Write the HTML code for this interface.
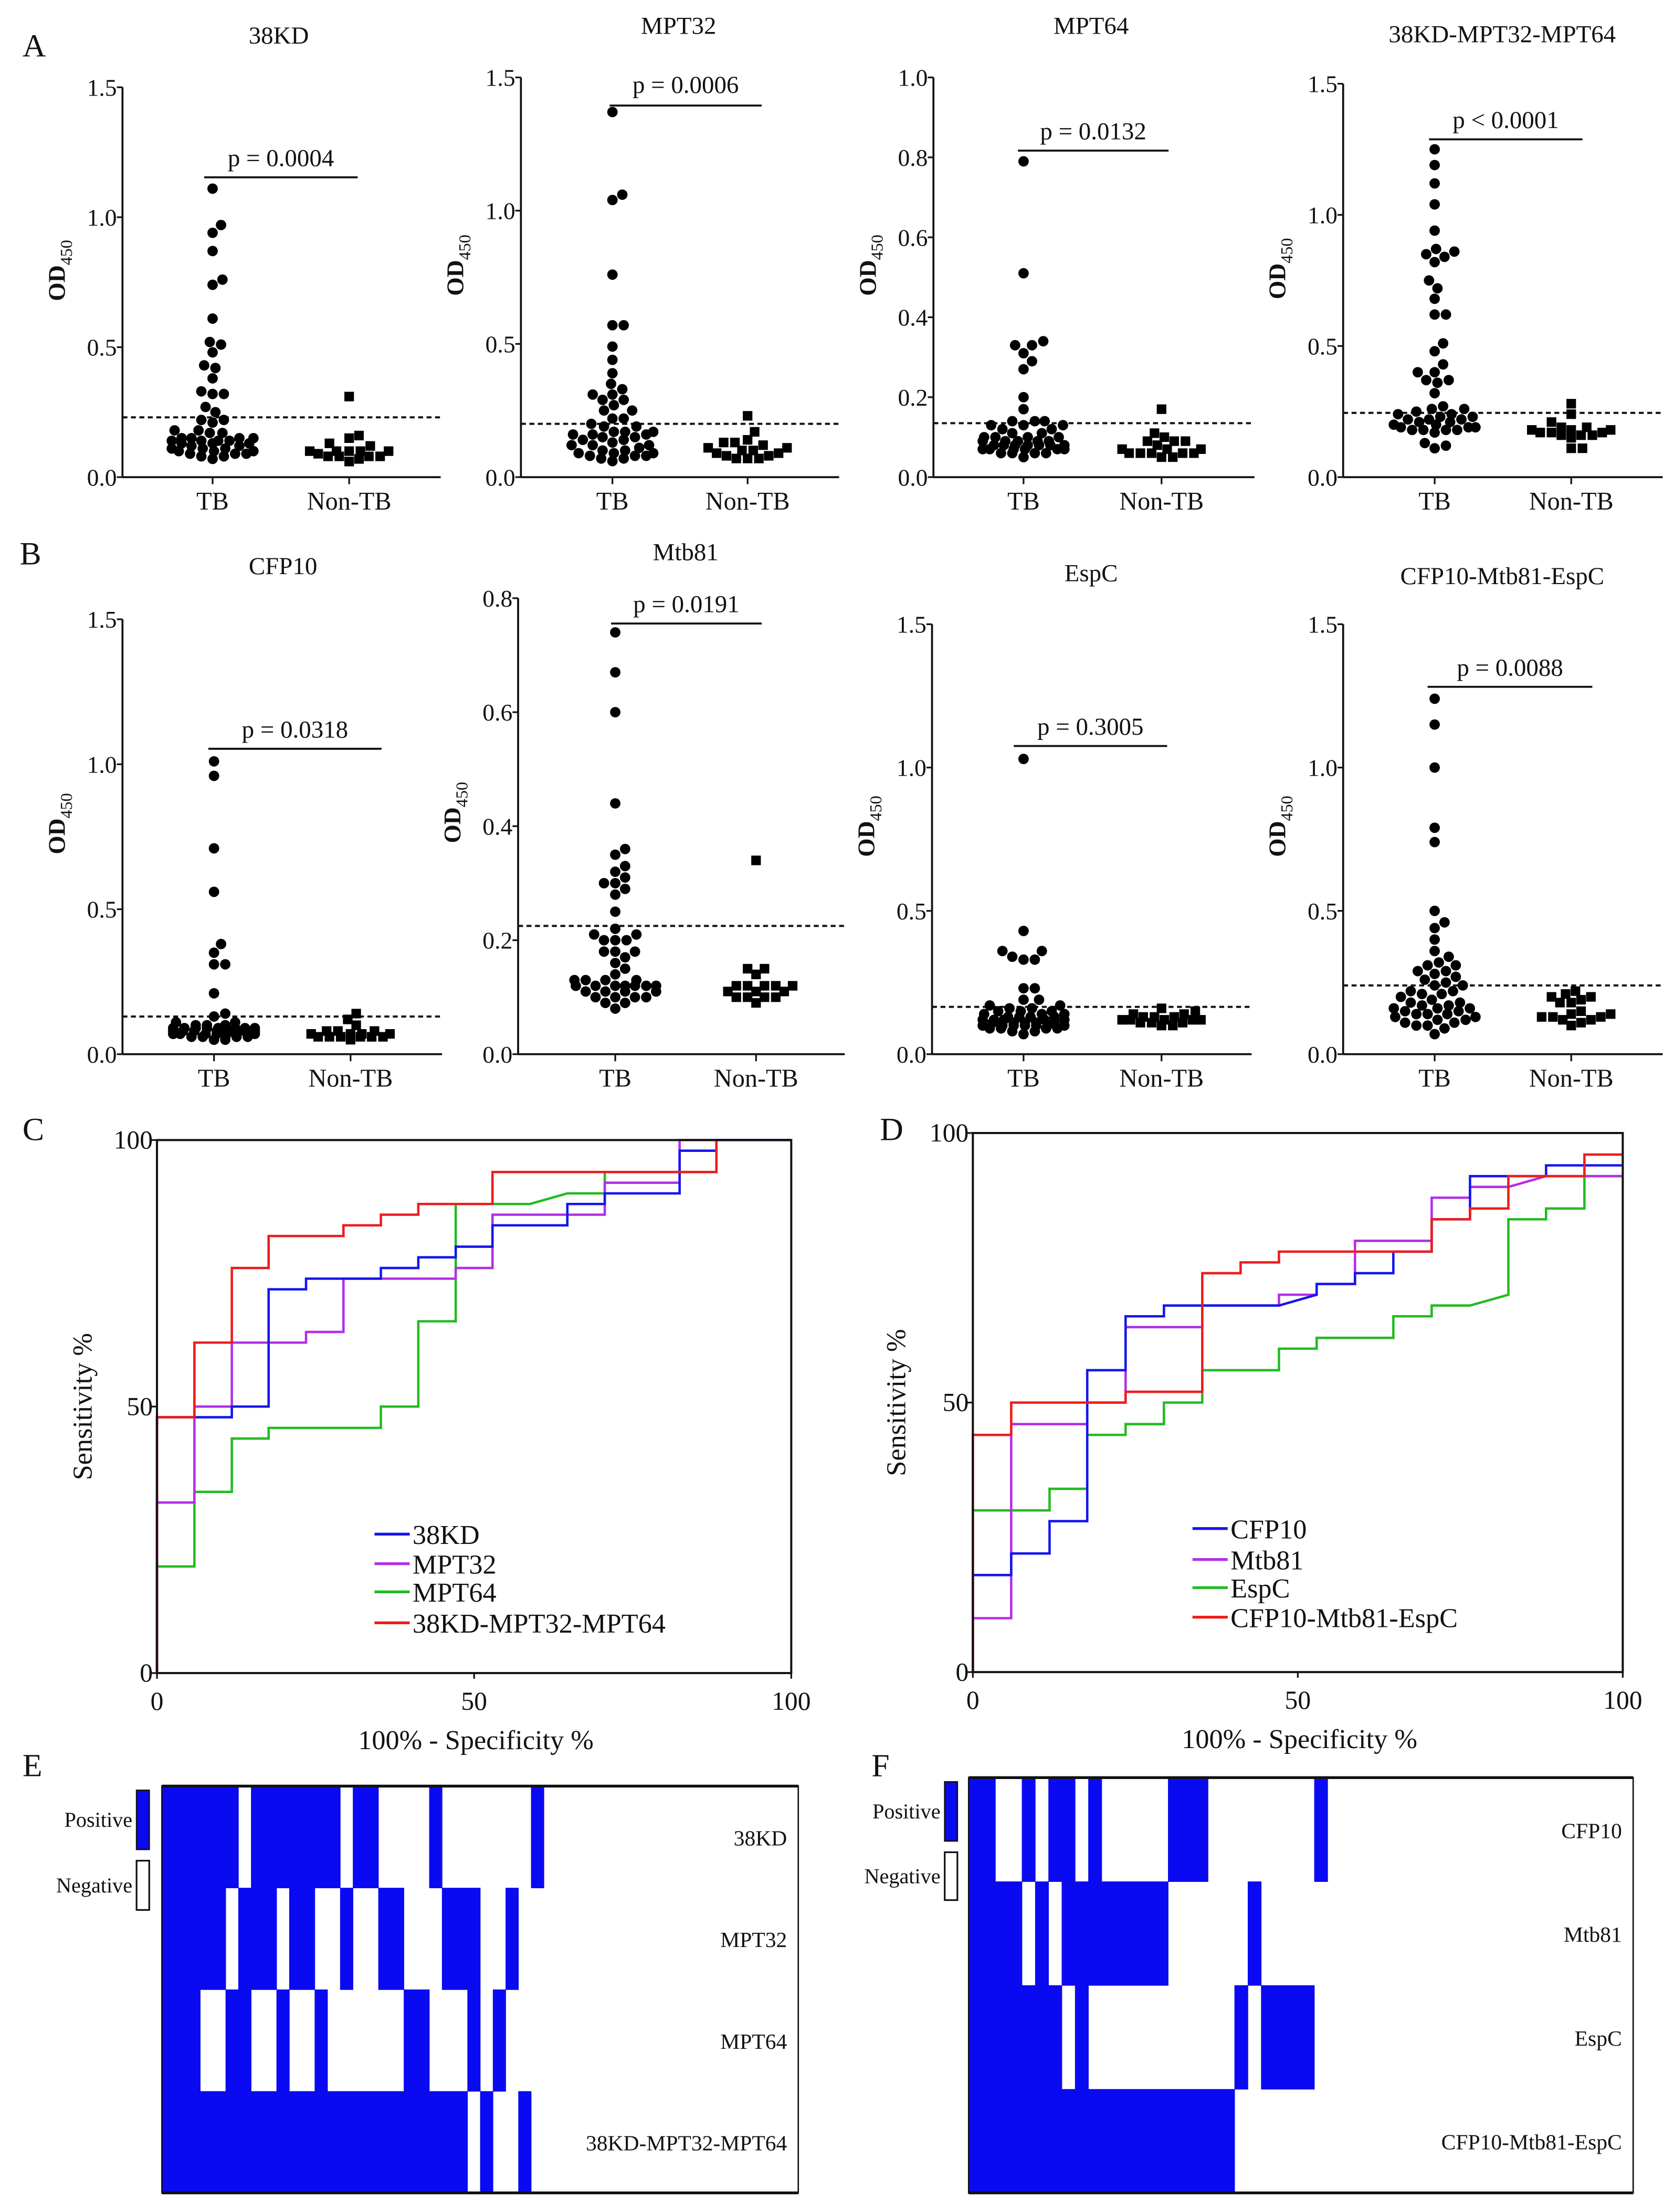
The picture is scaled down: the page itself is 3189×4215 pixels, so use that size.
<!DOCTYPE html>
<html><head><meta charset="utf-8">
<style>
html,body{margin:0;padding:0;background:#fff;}
svg{display:block;}
text{font-family:"Liberation Serif",serif;fill:#111;}
</style></head>
<body>
<svg id="fig" width="3189" height="4215" viewBox="0 0 1189 1571.6" preserveAspectRatio="none" xmlns="http://www.w3.org/2000/svg">
<rect x="0" y="0" width="1189" height="1571.6" fill="#fff"/>
</svg>
<script>
// ---------- scatter data (OD450) ----------
const tb38kd=[1.11,0.97,0.94,0.87,0.76,0.74,0.61,0.52,0.51,0.48,0.43,0.42,0.38,0.33,0.32,0.32,0.27,0.25,0.22,0.22,0.21,0.18,0.17,0.17,0.18,0.15,0.15,0.15,0.15,0.14,0.14,0.14,0.14,0.13,0.13,0.13,0.12,0.12,0.11,0.11,0.11,0.10,0.10,0.10,0.09,0.09,0.09,0.08,0.08,0.07];
const nt38kd=[0.31,0.16,0.15,0.13,0.12,0.10,0.10,0.10,0.10,0.10,0.09,0.08,0.08,0.08,0.08,0.07,0.06];
const tbMpt32=[1.37,1.06,1.04,0.76,0.57,0.57,0.49,0.44,0.39,0.35,0.33,0.31,0.31,0.29,0.29,0.27,0.25,0.25,0.22,0.22,0.20,0.19,0.19,0.17,0.17,0.17,0.16,0.16,0.16,0.15,0.15,0.14,0.14,0.13,0.12,0.12,0.12,0.11,0.10,0.10,0.09,0.09,0.09,0.08,0.08,0.08,0.07,0.07,0.06];
const ntMpt32=[0.23,0.17,0.14,0.13,0.13,0.12,0.11,0.11,0.10,0.10,0.09,0.09,0.08,0.08,0.07,0.07,0.07];
const tbMpt64=[0.79,0.51,0.34,0.33,0.33,0.31,0.29,0.27,0.20,0.17,0.14,0.14,0.13,0.13,0.13,0.14,0.12,0.12,0.11,0.11,0.10,0.10,0.10,0.10,0.09,0.09,0.09,0.09,0.09,0.08,0.08,0.08,0.08,0.08,0.08,0.08,0.07,0.07,0.07,0.07,0.07,0.07,0.06,0.06,0.06,0.06,0.05];
const ntMpt64=[0.17,0.11,0.10,0.09,0.09,0.09,0.08,0.07,0.07,0.07,0.06,0.06,0.06,0.06,0.06,0.05,0.05];
const tbComboA=[1.25,1.19,1.12,1.04,0.94,0.87,0.86,0.85,0.84,0.82,0.75,0.72,0.68,0.62,0.62,0.51,0.48,0.43,0.40,0.40,0.37,0.37,0.36,0.32,0.27,0.26,0.26,0.25,0.24,0.24,0.23,0.23,0.22,0.22,0.22,0.21,0.21,0.20,0.20,0.19,0.19,0.19,0.18,0.18,0.18,0.18,0.17,0.13,0.12,0.11];
const ntComboA=[0.28,0.24,0.21,0.19,0.19,0.18,0.18,0.18,0.17,0.17,0.17,0.16,0.16,0.16,0.15,0.11,0.11];
const tbCfp10=[1.01,0.96,0.71,0.56,0.38,0.35,0.31,0.31,0.21,0.14,0.13,0.11,0.11,0.10,0.10,0.10,0.09,0.09,0.09,0.09,0.09,0.09,0.09,0.09,0.08,0.08,0.08,0.08,0.08,0.08,0.08,0.08,0.07,0.07,0.07,0.07,0.07,0.07,0.06,0.06,0.06,0.06,0.05,0.05];
const ntCfp10=[0.14,0.12,0.10,0.08,0.08,0.08,0.07,0.07,0.07,0.07,0.06,0.06,0.06,0.06,0.06,0.06,0.05];
const tbMtb81=[0.74,0.67,0.60,0.44,0.36,0.35,0.33,0.32,0.31,0.30,0.30,0.29,0.28,0.25,0.22,0.21,0.21,0.20,0.20,0.20,0.18,0.18,0.18,0.17,0.16,0.15,0.14,0.13,0.13,0.13,0.13,0.12,0.12,0.12,0.12,0.12,0.12,0.12,0.11,0.11,0.11,0.11,0.10,0.10,0.10,0.10,0.09,0.09,0.08];
const ntMtb81=[0.34,0.15,0.15,0.14,0.12,0.12,0.12,0.12,0.12,0.11,0.11,0.11,0.10,0.10,0.10,0.10,0.09];
const tbEspc=[1.03,0.43,0.36,0.36,0.34,0.33,0.33,0.23,0.23,0.19,0.19,0.17,0.17,0.16,0.16,0.15,0.15,0.15,0.14,0.14,0.14,0.13,0.13,0.13,0.13,0.12,0.12,0.12,0.12,0.12,0.11,0.11,0.11,0.11,0.11,0.10,0.10,0.10,0.10,0.10,0.10,0.10,0.09,0.09,0.09,0.09,0.08,0.08,0.07];
const ntEspc=[0.16,0.15,0.14,0.14,0.13,0.13,0.13,0.12,0.12,0.12,0.12,0.12,0.11,0.11,0.11,0.10,0.10];
const tbComboB=[1.24,1.15,1.00,0.79,0.74,0.50,0.46,0.44,0.40,0.36,0.34,0.32,0.31,0.31,0.29,0.29,0.28,0.27,0.26,0.25,0.24,0.24,0.22,0.22,0.21,0.21,0.20,0.19,0.18,0.18,0.17,0.17,0.16,0.16,0.16,0.15,0.15,0.14,0.14,0.14,0.13,0.13,0.12,0.12,0.11,0.11,0.10,0.10,0.09,0.07];
const ntComboB=[0.22,0.21,0.20,0.20,0.19,0.18,0.18,0.15,0.14,0.14,0.13,0.13,0.13,0.12,0.12,0.11,0.10];
const cutoffs=[0.23,0.20,0.135,0.245,0.13,0.225,0.165,0.24];
const pLabels=["p = 0.0004","p = 0.0006","p = 0.0132","p < 0.0001","p = 0.0318","p = 0.0191","p = 0.3005","p = 0.0088"];
const panelTitles=["38KD","MPT32","MPT64","38KD-MPT32-MPT64","CFP10","Mtb81","EspC","CFP10-Mtb81-EspC"];
const ticks15=["0.0","0.5","1.0","1.5"];
const ticks10=["0.0","0.2","0.4","0.6","0.8","1.0"];
const ticks08=["0.0","0.2","0.4","0.6","0.8"];
const groupLabels=["TB","Non-TB"];

// ---------- ROC data [100%-spec, sens] ----------
const roc38kd=[[0,0],[0,48],[11.8,48],[11.8,50],[17.6,50],[17.6,72],[23.5,72],[23.5,74],[35.3,74],[35.3,76],[41.2,76],[41.2,78],[47.1,78],[47.1,80],[52.9,80],[52.9,84],[64.7,84],[64.7,88],[70.6,88],[70.6,90],[82.4,90],[82.4,98],[88.2,98],[88.2,100],[100,100]];
const rocMpt32=[[0,0],[0,32],[5.9,32],[5.9,50],[11.8,50],[11.8,62],[23.5,62],[23.5,64],[29.4,64],[29.4,74],[47.1,74],[47.1,76],[52.9,76],[52.9,86],[70.6,86],[70.6,92],[82.4,92],[82.4,100],[100,100]];
const rocMpt64=[[0,0],[0,20],[5.9,20],[5.9,34],[11.8,34],[11.8,44],[17.6,44],[17.6,46],[35.3,46],[35.3,50],[41.2,50],[41.2,66],[47.1,66],[47.1,88],[58.8,88],[64.7,90],[70.6,90],[70.6,94],[88.2,94]];
const rocComboA=[[0,0],[0,48],[5.9,48],[5.9,62],[11.8,62],[11.8,76],[17.6,76],[17.6,82],[29.4,82],[29.4,84],[35.3,84],[35.3,86],[41.2,86],[41.2,88],[52.9,88],[52.9,94],[88.2,94],[88.2,100]];
const rocCfp10=[[0,0],[0,18],[5.9,18],[5.9,22],[11.8,22],[11.8,28],[17.6,28],[17.6,56],[23.5,56],[23.5,66],[29.4,66],[29.4,68],[47.1,68],[52.9,70],[52.9,72],[58.8,72],[58.8,74],[64.7,74],[64.7,78],[70.6,78],[70.6,84],[76.5,84],[76.5,92],[88.2,92],[88.2,94],[100,94]];
const rocMtb81=[[0,0],[0,10],[5.9,10],[5.9,46],[17.6,46],[17.6,50],[23.5,50],[23.5,64],[35.3,64],[35.3,68],[47.1,68],[47.1,70],[52.9,70],[52.9,72],[58.8,72],[58.8,80],[70.6,80],[70.6,88],[76.5,88],[76.5,90],[82.4,90],[88.2,92],[100,92]];
const rocEspc=[[0,0],[0,30],[11.8,30],[11.8,34],[17.6,34],[17.6,44],[23.5,44],[23.5,46],[29.4,46],[29.4,50],[35.3,50],[35.3,56],[47.1,56],[47.1,60],[52.9,60],[52.9,62],[64.7,62],[64.7,66],[70.6,66],[70.6,68],[76.5,68],[82.4,70],[82.4,84],[88.2,84],[88.2,86],[94.1,86],[94.1,92],[100,92]];
const rocComboB=[[0,0],[0,44],[5.9,44],[5.9,50],[23.5,50],[23.5,52],[35.3,52],[35.3,74],[41.2,74],[41.2,76],[47.1,76],[47.1,78],[70.6,78],[70.6,84],[76.5,84],[76.5,86],[82.4,86],[82.4,92],[94.1,92],[94.1,96],[100,96]];
const rocNamesC=["38KD","MPT32","MPT64","38KD-MPT32-MPT64"];
const rocNamesD=["CFP10","Mtb81","EspC","CFP10-Mtb81-EspC"];
const rocTicks=[0,50,100];

// ---------- heatmap data: runs of positive columns [start,end) out of 50 ----------
const heatCols=50;
const heatRowsE=["38KD","MPT32","MPT64","38KD-MPT32-MPT64"];
const heatE38kd=[[0,6],[7,14],[15,17],[21,22],[29,30]];
const heatEMpt32=[[0,5],[6,9],[10,12],[14,15],[17,19],[22,25],[27,28]];
const heatEMpt64=[[0,3],[5,7],[9,10],[12,13],[19,21],[24,25],[26,27]];
const heatECombo=[[0,24],[25,26],[28,29]];
const heatRowsF=["CFP10","Mtb81","EspC","CFP10-Mtb81-EspC"];
const heatFCfp10=[[0,2],[4,5],[6,8],[9,10],[15,18],[26,27]];
const heatFMtb81=[[0,4],[5,6],[7,15],[21,22]];
const heatFEspc=[[0,7],[8,9],[20,21],[22,26]];
const heatFCombo=[[0,20]];

// ---------- rendering ----------
const svg=document.getElementById('fig');
const NS=svg.namespaceURI;
function mk(parent,tag,attrs,txt){const e=document.createElementNS(NS,tag);for(const k in attrs)e.setAttribute(k,attrs[k]);if(txt!=null)e.textContent=txt;parent.appendChild(e);return e;}

const panelLetters=[["A",16,40],["B",14,401],["C",16,810],["D",625,810],["E",16,1262],["F",619,1262]];
panelLetters.forEach(p=>{
  const t=mk(svg,'text',{x:p[1],y:p[2],'font-size':23},p[0]);
  
  
});

const layouts=[
 {ax:87,y0:339,yt:62,max:1.5,ticks:ticks15,tb:151,nt:248,xe:313,tx:198,ty:31,bar:[145,254,126],pY:118},
 {ax:370,y0:339,yt:55,max:1.5,ticks:ticks15,tb:435,nt:531,xe:596,tx:482,ty:24,bar:[433,541,75],pY:66},
 {ax:663,y0:339,yt:55,max:1.0,ticks:ticks10,tb:727,nt:825,xe:891,tx:775,ty:24,bar:[723,830,107],pY:99},
 {ax:954,y0:339,yt:59.5,max:1.5,ticks:ticks15,tb:1019,nt:1116,xe:1181,tx:1067,ty:30,bar:[1015,1124,99],pY:91},
 {ax:87,y0:749,yt:440,max:1.5,ticks:ticks15,tb:152,nt:249,xe:314,tx:201,ty:408,bar:[148,271,532],pY:524},
 {ax:368,y0:749,yt:425,max:0.8,ticks:ticks08,tb:437,nt:537,xe:600,tx:487,ty:398,bar:[434,541,443],pY:435},
 {ax:662,y0:749,yt:443.5,max:1.5,ticks:ticks15,tb:727,nt:825,xe:889,tx:775,ty:413,bar:[720,829,530],pY:522},
 {ax:954,y0:749,yt:443.5,max:1.5,ticks:ticks15,tb:1019,nt:1116,xe:1181,tx:1067,ty:415,bar:[1014,1131,488],pY:480}
];
const tbSets=[tb38kd,tbMpt32,tbMpt64,tbComboA,tbCfp10,tbMtb81,tbEspc,tbComboB];
const ntSets=[nt38kd,ntMpt32,ntMpt64,ntComboA,ntCfp10,ntMtb81,ntEspc,ntComboB];

function swarm(vals,cx,yf,d,maxW){
  const placed=[];const out=[];
  const sorted=vals.slice().sort((a,b)=>a-b);
  sorted.forEach((v,idx)=>{
    const y=yf(v);let best=null,bestOv=1e9,bestOff=0;
    for(let k=0;k<=2*maxW;k++){
      const off=(k%2?1:-1)*Math.ceil(k/2)*1.0;
      if(Math.abs(off)>maxW)break;
      let ov=0;
      for(const p of placed){const dx=p[0]-(cx+off),dy=p[1]-y;const dd=Math.sqrt(dx*dx+dy*dy);if(dd<d)ov+=d-dd;}
      if(ov===0){best=off;break;}
      if(ov<bestOv){bestOv=ov;bestOff=off;}
    }
    if(best===null)best=bestOff;
    placed.push([cx+best,y]);out.push([cx+best,y]);
  });
  return out;
}

layouts.forEach((L,i)=>{
  const g=mk(svg,'g',{});
  
  
  const yf=v=>L.y0-(v/L.max)*(L.y0-L.yt);
  const title=mk(g,'text',{x:L.tx,y:L.ty,'font-size':17.5,'text-anchor':'middle'},panelTitles[i]);
  
  
  const ya=mk(g,'line',{x1:L.ax,y1:L.yt,x2:L.ax,y2:L.y0,stroke:'#111','stroke-width':1.4});
  
  
  const xa=mk(g,'line',{x1:L.ax,y1:L.y0,x2:L.xe,y2:L.y0,stroke:'#111','stroke-width':1.4});
  
  
  L.ticks.forEach(tl=>{
    const v=parseFloat(tl);const y=yf(v);
    const tk=mk(g,'line',{x1:L.ax-4,y1:y,x2:L.ax,y2:y,stroke:'#111','stroke-width':1.2});
    
    
    const tt=mk(g,'text',{x:L.ax-4,y:y+6,'font-size':17,'text-anchor':'end'},tl);
    
    
  });
  [L.tb,L.nt].forEach((x,j)=>{
    const tk=mk(g,'line',{x1:x,y1:L.y0,x2:x,y2:L.y0+5,stroke:'#111','stroke-width':1.2});
    
    
    const tt=mk(g,'text',{x:x,y:L.y0+23,'font-size':18,'text-anchor':'middle'},groupLabels[j]);
    
    
  });
  const yl=mk(g,'text',{x:0,y:0,'font-size':17,'font-weight':'bold','text-anchor':'middle',transform:'translate('+(L.ax-41)+','+(L.yt+(L.y0-L.yt)*0.47)+') rotate(-90)'});
  
  
  mk(yl,'tspan',{},'OD');
  mk(yl,'tspan',{'font-size':12,dy:5,'font-weight':'normal'},'450');
  const cut=mk(g,'line',{x1:L.ax,y1:yf(cutoffs[i]),x2:L.xe,y2:yf(cutoffs[i]),stroke:'#111','stroke-width':1.5,'stroke-dasharray':'3.5,2.5'});
  
  
  const bar=mk(g,'line',{x1:L.bar[0],y1:L.bar[2],x2:L.bar[1],y2:L.bar[2],stroke:'#111','stroke-width':1.4});
  
  
  const pt=mk(g,'text',{x:(L.bar[0]+L.bar[1])/2,y:L.pY,'font-size':17.5,'text-anchor':'middle'},pLabels[i]);
  
  
  swarm(tbSets[i],L.tb,yf,7.6,29).forEach(p=>{
    const c=mk(g,'circle',{cx:p[0].toFixed(2),cy:p[1].toFixed(2),r:3.7,fill:'#000'});
    
    
  });
  swarm(ntSets[i],L.nt,yf,7.2,28).forEach(p=>{
    const s=mk(g,'rect',{x:(p[0]-3.4).toFixed(2),y:(p[1]-3.4).toFixed(2),width:6.8,height:6.8,fill:'#000'});
    
    
  });
});

const rocColors=['#1515ee','#b22fe8','#22bb22','#ee1c1c'];
const rocPanels=[
 {l:111.5,r:562,t:810,b:1188.7,series:[rocMpt64,rocMpt32,roc38kd,rocComboA],order:[2,1,0,3],names:rocNamesC,lx:266,ly:[1090,1111,1131,1153],sx:59,tx:338,id:'c'},
 {l:691,r:1152.6,t:805,b:1188,series:[rocEspc,rocMtb81,rocCfp10,rocComboB],order:[2,1,0,3],names:rocNamesD,lx:847,ly:[1086,1108,1128,1149],sx:637,tx:923,id:'d'}
];
rocPanels.forEach(P=>{
  const g=mk(svg,'g',{});
  
  
  const xf=v=>P.l+v/100*(P.r-P.l), yf=v=>P.b-v/100*(P.b-P.t);
  P.series.forEach((s,k)=>{
    const ci=P.order[k];
    const pl=mk(g,'polyline',{points:s.map(p=>xf(p[0]).toFixed(2)+','+yf(p[1]).toFixed(2)).join(' '),fill:'none',stroke:rocColors[ci],'stroke-width':1.7});
    
    
  });
  const box=mk(g,'rect',{x:P.l,y:P.t,width:P.r-P.l,height:P.b-P.t,fill:'none',stroke:'#111','stroke-width':1.5});
  
  
  rocTicks.forEach(v=>{
    const ty=mk(g,'line',{x1:P.l-4,y1:yf(v),x2:P.l,y2:yf(v),stroke:'#111','stroke-width':1.2});
    
    
    const tyl=mk(g,'text',{x:P.l-3,y:yf(v)+6,'font-size':18.5,'text-anchor':'end'},String(v));
    
    
    const tx=mk(g,'line',{x1:xf(v),y1:P.b,x2:xf(v),y2:P.b+4,stroke:'#111','stroke-width':1.2});
    
    
    const txl=mk(g,'text',{x:xf(v),y:P.b+26,'font-size':18.5,'text-anchor':'middle'},String(v));
    
    
  });
  const xt=mk(g,'text',{x:P.tx,y:P.b+54,'font-size':19.5,'text-anchor':'middle'},'100% - Specificity %');
  
  
  const yt=mk(g,'text',{x:0,y:0,'font-size':19.5,'text-anchor':'middle',transform:'translate('+(P.sx+6)+','+((P.t+P.b)/2)+') rotate(-90)'},'Sensitivity %');
  
  
  P.names.forEach((n,k)=>{
    const ll=mk(g,'line',{x1:P.lx,y1:P.ly[k],x2:P.lx+25,y2:P.ly[k],stroke:rocColors[k],'stroke-width':2});
    
    
    const lt=mk(g,'text',{x:P.lx+27,y:P.ly[k]+7,'font-size':19.5},n);
    
    
  });
});

const heatPanels=[
 {l:115,r:567,t:1269,b:1558,rows:[heatE38kd,heatEMpt32,heatEMpt64,heatECombo],names:heatRowsE,lgx:97,lgy:[1272,1322],lgh:[42,35],id:'e'},
 {l:688,r:1160,t:1263,b:1558,rows:[heatFCfp10,heatFMtb81,heatFEspc,heatFCombo],names:heatRowsF,lgx:671,lgy:[1266,1316],lgh:[42,34],id:'f'}
];
heatPanels.forEach(H=>{
  const g=mk(svg,'g',{});
  
  
  const cw=(H.r-H.l)/heatCols, rh=(H.b-H.t)/4;
  H.rows.forEach((runs,ri)=>{
    runs.forEach(rn=>{
      const c=mk(g,'rect',{x:(H.l+rn[0]*cw).toFixed(2),y:(H.t+ri*rh).toFixed(2),width:((rn[1]-rn[0])*cw+0.3).toFixed(2),height:(rh+0.3).toFixed(2),fill:'#0a0af2'});
      
      
    });
    const t=mk(g,'text',{x:H.r-8,y:H.t+ri*rh+rh/2+6,'font-size':15.5,'text-anchor':'end'},H.names[ri]);
    
    
  });
  const fr=mk(g,'rect',{x:H.l,y:H.t,width:H.r-H.l,height:H.b-H.t,fill:'none',stroke:'#111','stroke-width':1});
  
  
  [H.t,H.b].forEach(y=>{
    const ln=mk(g,'line',{x1:H.l,y1:y,x2:H.r,y2:y,stroke:'#111','stroke-width':2});
    
    
  });
  const pr=mk(g,'rect',{x:H.lgx,y:H.lgy[0],width:9,height:H.lgh[0],fill:'#0a0af2',stroke:'#111','stroke-width':1});
  
  
  const nr=mk(g,'rect',{x:H.lgx,y:H.lgy[1],width:9,height:H.lgh[1],fill:'#fff',stroke:'#111','stroke-width':1.2});
  
  
  const pt=mk(g,'text',{x:H.lgx-3,y:H.lgy[0]+H.lgh[0]/2+5,'font-size':15,'text-anchor':'end'},'Positive');
  
  
  const nt=mk(g,'text',{x:H.lgx-3,y:H.lgy[1]+H.lgh[1]/2+5,'font-size':15,'text-anchor':'end'},'Negative');
  
  
});
</script>
</body></html>
